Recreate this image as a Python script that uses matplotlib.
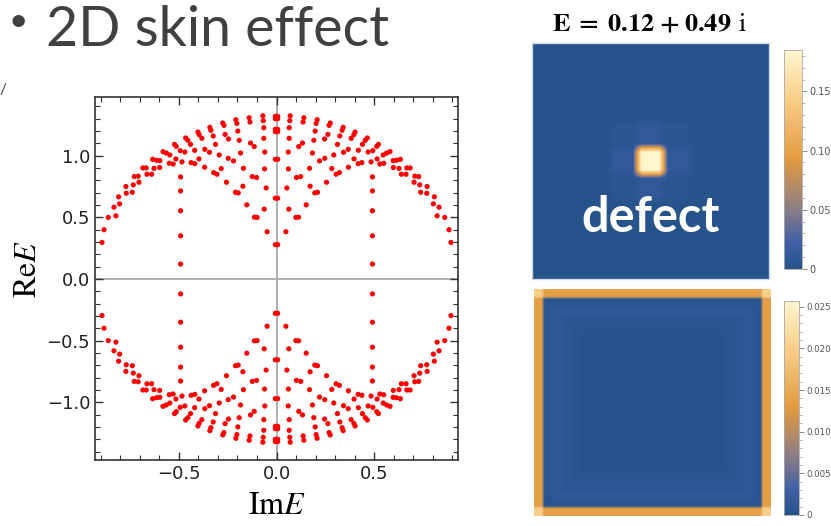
import numpy as np
import matplotlib.pyplot as plt
from matplotlib.colors import LinearSegmentedColormap
from matplotlib.ticker import MultipleLocator

plt.rcParams['mathtext.fontset'] = 'stix'

# -- spectrum, read off the upper-left quadrant (Im E < 0, Re E > 0) --
# the picture is mirror symmetric in both axes, so the other three quadrants are reflections
qx = [-0.893, -0.883, -0.861, -0.832, -0.822, -0.808, -0.803, -0.771, -0.769, -0.738,
      -0.733, -0.728, -0.708, -0.704, -0.684, -0.667, -0.663, -0.639, -0.634, -0.614,
      -0.627, -0.597, -0.598, -0.581, -0.564, -0.546, -0.549, -0.529, -0.522, -0.513,
      -0.515, -0.493, -0.484, -0.465, -0.454, -0.469, -0.440, -0.437, -0.418, -0.419,
      -0.402, -0.396, -0.397, -0.382, -0.368, -0.367, -0.341, -0.336, -0.343, -0.324,
      -0.322, -0.305, -0.312, -0.293, -0.283, -0.275, -0.269, -0.263, -0.246, -0.247,
      -0.220, -0.256, -0.208, -0.203, -0.198, -0.191, -0.184, -0.169, -0.210, -0.196,
      -0.172, -0.152, -0.140, -0.136, -0.133, -0.114, -0.124, -0.102, -0.113, -0.099,
      -0.070, -0.068, -0.065, -0.065, -0.060, -0.061, -0.053, -0.063, -0.048]
qy = [0.296, 0.399, 0.499, 0.582, 0.512, 0.666, 0.609, 0.749, 0.695, 0.703,
      0.763, 0.830, 0.833, 0.784, 0.900, 0.900, 0.849, 0.849, 0.970, 0.962,
      0.897, 0.959, 0.903, 1.032, 1.021, 1.005, 0.938, 0.932, 1.091, 1.075,
      0.973, 1.040, 0.949, 1.143, 1.124, 1.029, 1.091, 0.943, 0.935, 1.043,
      1.191, 1.170, 0.973, 1.140, 0.906, 1.051, 1.229, 1.205, 1.027, 1.159,
      0.862, 0.849, 1.091, 1.005, 0.895, 1.264, 1.245, 1.172, 1.135, 0.978,
      0.957, 0.784, 1.291, 1.261, 1.199, 1.124, 1.021, 0.897, 0.703, 0.698,
      0.752, 0.601, 1.307, 1.272, 1.102, 1.073, 0.830, 0.822, 0.501, 0.499,
      1.323, 1.283, 1.226, 1.140, 1.029, 0.892, 0.738, 0.566, 0.383]
# vertical column of points near Im E = -0.49
col_x = -0.491
col_y = [0.827, 0.714, 0.553, 0.350, 0.121]
# points sitting on the Im E = 0 axis (drawn as close pairs)
mid_x = -0.006
mid_y = [1.318, 1.299, 1.213, 1.194, 0.970, 0.655, 0.278]

# -- density plots --
# top: state bound to the defect, 9x9 cells
spot_n = 9
spot_peak, spot_cross, spot_diag, spot_bg = 0.185, 0.012, 0.004, 0.0008
top_max = 0.185
top_ticks = [0, 0.05, 0.10, 0.15]
top_labels = ['0', '0.05', '0.10', '0.15']
# bottom: skin state piled up at the edges, value by ring (distance from edge)
edge_n = 26
ring_vals = [0.0135, 0.0008, 0.0016, 0.0009, 0.0005, 0.0003]
corner_val = 0.02
bot_max = 0.0257
bot_ticks = [0, 0.005, 0.010, 0.015, 0.020, 0.025]
bot_labels = ['0', '0.005', '0.010', '0.015', '0.020', '0.025']

W, H = 831, 526
fig = plt.figure(figsize=(W / 100, H / 100), dpi=100)


def px_axes(x0, y0, x1, y1):
    return fig.add_axes([x0 / W, 1 - y1 / H, (x1 - x0) / W, (y1 - y0) / H])


# upper-left quadrant plus its three reflections
ux = np.array(qx + [col_x] * len(col_y) + [mid_x] * len(mid_y))
uy = np.array(qy + col_y + mid_y)
xs = np.concatenate([ux, -ux, ux, -ux])
ys = np.concatenate([uy, uy, -uy, -uy])

ax = px_axes(95, 97, 458, 460)
ax.axhline(0, color='#a8a8a8', lw=1.3, zorder=0)
ax.axvline(0, color='#a8a8a8', lw=1.3, zorder=0)
ax.scatter(xs, ys, s=14, color='#ff0000', edgecolors='none', zorder=3)
ax.set_xlim(-0.929, 0.929)
ax.set_ylim(-1.467, 1.475)
ax.xaxis.set_major_locator(MultipleLocator(0.5))
ax.xaxis.set_minor_locator(MultipleLocator(0.1))
ax.yaxis.set_major_locator(MultipleLocator(0.5))
ax.yaxis.set_minor_locator(MultipleLocator(0.1))
ax.tick_params(which='both', direction='in', top=True, right=True,
               color='#333333', labelsize=13, labelcolor='#222222')
ax.tick_params(which='major', length=6, width=1.0)
ax.tick_params(which='minor', length=3.5, width=0.8)
for sp in ax.spines.values():
    sp.set_color('#333333')
    sp.set_linewidth(1.2)

fig.text(28 / W, 1 - 269 / H, r'$\mathrm{Re}E$', rotation=90,
         ha='center', va='center', fontsize=23)
fig.text(277 / W, 1 - 505 / H, r'$\mathrm{Im}E$',
         ha='center', va='center', fontsize=23)

# slide title
fig.text(9 / W, 1 - 22 / H, '\u2022', family='Lato', fontsize=24,
         color='#404040', ha='left', va='center')
fig.text(46 / W, 1 - 46 / H, '2D skin effect', family='Lato', fontsize=40,
         color='#404040', ha='left', va='baseline')
fig.text(-1 / W, 1 - 94 / H, '/', family='Lato', fontsize=11, color='#404040')

cmap = LinearSegmentedColormap.from_list('mma', [
    (0.0, '#26538a'), (0.12, '#3f60a6'), (0.27, '#8a7d86'),
    (0.5, '#e29a3f'), (0.78, '#f8cf8a'), (1.0, '#fff6cf')])

# top density plot
grid_top = np.full((spot_n, spot_n), spot_bg)
c = spot_n // 2
grid_top[c, c] = spot_peak
for di, dj in [(-1, 0), (1, 0), (0, -1), (0, 1)]:
    grid_top[c + di, c + dj] = spot_cross
for di, dj in [(-1, -1), (-1, 1), (1, -1), (1, 1)]:
    grid_top[c + di, c + dj] = spot_diag

ax1 = px_axes(532, 43, 769, 279)
im1 = ax1.imshow(np.kron(grid_top, np.ones((3, 3))), cmap=cmap, vmin=0, vmax=top_max,
                 interpolation='bilinear', aspect='auto')
ax1.set_xticks([])
ax1.set_yticks([])
for sp in ax1.spines.values():
    sp.set_color('#c9d6e6')
    sp.set_linewidth(1.0)
ax1.text(0.5, 0.2, 'defect', transform=ax1.transAxes, family='Lato',
         weight='bold', fontsize=35, color='white', ha='center', va='baseline')
fig.text(650 / W, 1 - 24 / H,
         r'$\mathbf{E}\;\mathbf{=}\;\mathbf{0.12}\;\mathbf{+}\;\mathbf{0.49}\;\,\mathrm{i}$',
         ha='center', va='center', fontsize=19)

# bottom density plot
ii, jj = np.meshgrid(np.arange(edge_n), np.arange(edge_n), indexing='ij')
dist = np.minimum(np.minimum(ii, jj), np.minimum(edge_n - 1 - ii, edge_n - 1 - jj))
grid_bot = np.array(ring_vals)[np.minimum(dist, len(ring_vals) - 1)]
for r, cc in [(0, 0), (0, edge_n - 1), (edge_n - 1, 0), (edge_n - 1, edge_n - 1)]:
    grid_bot[r, cc] = corner_val

ax2 = px_axes(534, 289, 771, 516)
im2 = ax2.imshow(np.kron(grid_bot, np.ones((3, 3))), cmap=cmap, vmin=0, vmax=bot_max,
                 interpolation='bilinear', aspect='auto')
ax2.set_xticks([])
ax2.set_yticks([])
for sp in ax2.spines.values():
    sp.set_visible(False)

# colour bars
for im, box, ticks, labels, minor, fs in [
        (im1, (784, 50, 802, 269), top_ticks, top_labels, 0.01, 7),
        (im2, (784, 301, 799, 515), bot_ticks, bot_labels, 0.001, 6.2)]:
    cax = px_axes(*box)
    cb = fig.colorbar(im, cax=cax)
    cb.set_ticks(ticks)
    cb.set_ticklabels(labels)
    cax.yaxis.set_minor_locator(MultipleLocator(minor))
    cax.tick_params(which='major', length=3.5, width=0.6, color='#777777',
                    labelsize=fs, labelcolor='#555555', pad=1.5)
    cax.tick_params(which='minor', length=2, width=0.5, color='#999999')
    cb.outline.set_edgecolor('#aaaaaa')
    cb.outline.set_linewidth(0.6)

fig.savefig('out.png', dpi=100)
